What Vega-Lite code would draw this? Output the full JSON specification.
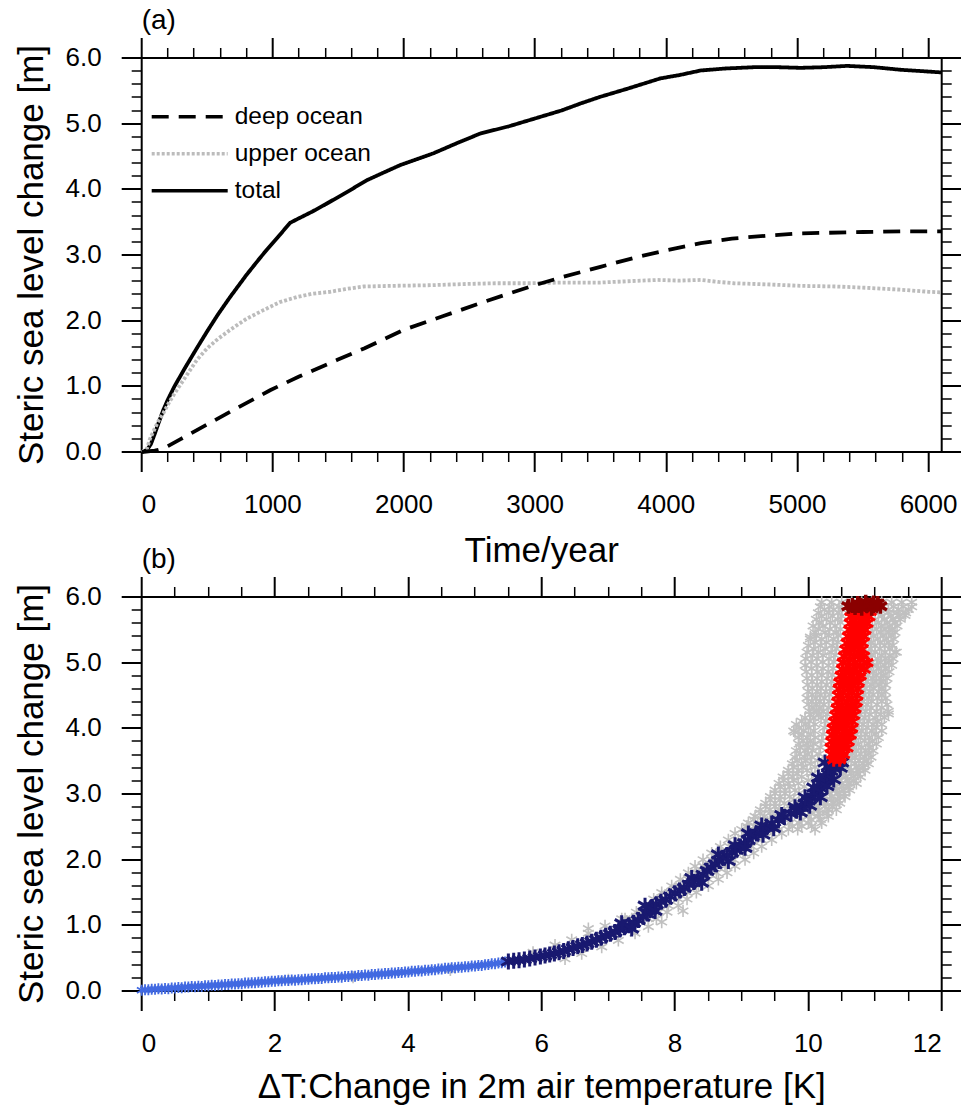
{
"$schema":"https://vega.github.io/schema/vega-lite/v6.json",
"autosize":{"type":"none"},
"padding":{"left":141.7,"top":58,"right":819.3,"bottom":1048},
"background":"white",
"config":{"font":"Liberation Sans","view":{"stroke":null},
"axis":{"domainColor":"black","tickColor":"black","domainWidth":2,"tickWidth":2,"domainCap":"square","translate":0,"labelFont":"Liberation Sans","labelFontSize":26,"labelColor":"black","labelPadding":20,"titleFont":"Liberation Sans","titleFontSize":35,"titleFontWeight":"normal","titleColor":"black","grid":false},
"title":{"font":"Liberation Sans","fontSize":28,"fontWeight":"normal","color":"black","anchor":"start","frame":"group","offset":2}},
"datasets":{
"ts":[
{"series":"total","year":0,"v":0},{"series":"total","year":40,"v":0.03},{"series":"total","year":70,"v":0.12},{"series":"total","year":100,"v":0.28},{"series":"total","year":130,"v":0.45},{"series":"total","year":165,"v":0.64},{"series":"total","year":200,"v":0.8},{"series":"total","year":250,"v":1.0},{"series":"total","year":330,"v":1.28},{"series":"total","year":420,"v":1.58},{"series":"total","year":500,"v":1.84},{"series":"total","year":580,"v":2.09},{"series":"total","year":674,"v":2.36},{"series":"total","year":800,"v":2.7},{"series":"total","year":900,"v":2.95},{"series":"total","year":954,"v":3.08},{"series":"total","year":1050,"v":3.3},{"series":"total","year":1132,"v":3.49},{"series":"total","year":1200,"v":3.56},{"series":"total","year":1300,"v":3.66},{"series":"total","year":1400,"v":3.77},{"series":"total","year":1461,"v":3.84},{"series":"total","year":1600,"v":4.0},{"series":"total","year":1718,"v":4.14},{"series":"total","year":1850,"v":4.26},{"series":"total","year":1972,"v":4.37},{"series":"total","year":2100,"v":4.46},{"series":"total","year":2226,"v":4.55},{"series":"total","year":2400,"v":4.7},{"series":"total","year":2582,"v":4.85},{"series":"total","year":2800,"v":4.96},{"series":"total","year":3000,"v":5.08},{"series":"total","year":3200,"v":5.2},{"series":"total","year":3350,"v":5.31},{"series":"total","year":3498,"v":5.41},{"series":"total","year":3700,"v":5.53},{"series":"total","year":3956,"v":5.69},{"series":"total","year":4100,"v":5.74},{"series":"total","year":4263,"v":5.81},{"series":"total","year":4450,"v":5.84},{"series":"total","year":4670,"v":5.86},{"series":"total","year":4850,"v":5.86},{"series":"total","year":5026,"v":5.85},{"series":"total","year":5200,"v":5.86},{"series":"total","year":5380,"v":5.88},{"series":"total","year":5584,"v":5.86},{"series":"total","year":5790,"v":5.82},{"series":"total","year":5950,"v":5.8},{"series":"total","year":6100,"v":5.78},
{"series":"upper ocean","year":0,"v":0},{"series":"upper ocean","year":40,"v":0.05},{"series":"upper ocean","year":63,"v":0.2},{"series":"upper ocean","year":100,"v":0.36},{"series":"upper ocean","year":130,"v":0.48},{"series":"upper ocean","year":165,"v":0.59},{"series":"upper ocean","year":210,"v":0.76},{"series":"upper ocean","year":250,"v":0.89},{"series":"upper ocean","year":330,"v":1.13},{"series":"upper ocean","year":420,"v":1.4},{"series":"upper ocean","year":500,"v":1.58},{"series":"upper ocean","year":580,"v":1.72},{"series":"upper ocean","year":674,"v":1.86},{"series":"upper ocean","year":800,"v":2.03},{"series":"upper ocean","year":928,"v":2.16},{"series":"upper ocean","year":1050,"v":2.28},{"series":"upper ocean","year":1183,"v":2.36},{"series":"upper ocean","year":1300,"v":2.41},{"series":"upper ocean","year":1437,"v":2.44},{"series":"upper ocean","year":1550,"v":2.48},{"series":"upper ocean","year":1692,"v":2.52},{"series":"upper ocean","year":1900,"v":2.53},{"series":"upper ocean","year":2200,"v":2.54},{"series":"upper ocean","year":2500,"v":2.56},{"series":"upper ocean","year":2710,"v":2.57},{"series":"upper ocean","year":2964,"v":2.57},{"series":"upper ocean","year":3200,"v":2.58},{"series":"upper ocean","year":3498,"v":2.58},{"series":"upper ocean","year":3700,"v":2.6},{"series":"upper ocean","year":3931,"v":2.62},{"series":"upper ocean","year":4100,"v":2.61},{"series":"upper ocean","year":4263,"v":2.62},{"series":"upper ocean","year":4400,"v":2.59},{"series":"upper ocean","year":4516,"v":2.57},{"series":"upper ocean","year":4800,"v":2.55},{"series":"upper ocean","year":5026,"v":2.53},{"series":"upper ocean","year":5300,"v":2.52},{"series":"upper ocean","year":5534,"v":2.5},{"series":"upper ocean","year":5800,"v":2.47},{"series":"upper ocean","year":6000,"v":2.44},{"series":"upper ocean","year":6100,"v":2.43},
{"series":"deep ocean","year":0,"v":0},{"series":"deep ocean","year":100,"v":0.02},{"series":"deep ocean","year":160,"v":0.05},{"series":"deep ocean","year":200,"v":0.09},{"series":"deep ocean","year":300,"v":0.2},{"series":"deep ocean","year":500,"v":0.42},{"series":"deep ocean","year":700,"v":0.64},{"series":"deep ocean","year":979,"v":0.94},{"series":"deep ocean","year":1200,"v":1.15},{"series":"deep ocean","year":1488,"v":1.4},{"series":"deep ocean","year":1700,"v":1.58},{"series":"deep ocean","year":1997,"v":1.86},{"series":"deep ocean","year":2300,"v":2.07},{"series":"deep ocean","year":2600,"v":2.28},{"series":"deep ocean","year":2964,"v":2.52},{"series":"deep ocean","year":3200,"v":2.66},{"series":"deep ocean","year":3498,"v":2.82},{"series":"deep ocean","year":3800,"v":2.98},{"series":"deep ocean","year":4000,"v":3.07},{"series":"deep ocean","year":4263,"v":3.18},{"series":"deep ocean","year":4500,"v":3.25},{"series":"deep ocean","year":4800,"v":3.3},{"series":"deep ocean","year":5026,"v":3.33},{"series":"deep ocean","year":5500,"v":3.35},{"series":"deep ocean","year":5800,"v":3.36},{"series":"deep ocean","year":6100,"v":3.36}
],
"g":[
{"t":10.2,"h":5.92},{"t":10.35,"h":5.92},{"t":10.5,"h":5.92},{"t":10.65,"h":5.92},{"t":10.8,"h":5.92},{"t":10.95,"h":5.92},{"t":11.1,"h":5.92},{"t":11.25,"h":5.92},{"t":11.4,"h":5.92},{"t":11.55,"h":5.92},
{"t":10.18,"h":5.85},{"t":10.32,"h":5.85},{"t":10.46,"h":5.85},{"t":11.12,"h":5.85},{"t":11.28,"h":5.85},{"t":11.42,"h":5.85},{"t":11.55,"h":5.85},
{"t":10.24,"h":5.81},{"t":10.38,"h":5.81},{"t":10.5,"h":5.81},{"t":11.2,"h":5.81},{"t":11.35,"h":5.81},{"t":11.5,"h":5.81},
{"t":10.15,"h":5.76},{"t":10.3,"h":5.76},{"t":10.45,"h":5.76},{"t":11.05,"h":5.76},{"t":11.2,"h":5.76},{"t":11.33,"h":5.76},{"t":11.46,"h":5.76},
{"t":10.2,"h":5.71},{"t":10.36,"h":5.71},{"t":10.5,"h":5.71},{"t":11.1,"h":5.71},{"t":11.24,"h":5.71},{"t":11.36,"h":5.71},
{"t":10.12,"h":5.66},{"t":10.27,"h":5.66},{"t":10.44,"h":5.66},{"t":11.0,"h":5.66},{"t":11.14,"h":5.66},{"t":11.27,"h":5.66},{"t":11.38,"h":5.66},
{"t":10.17,"h":5.61},{"t":10.33,"h":5.61},{"t":10.48,"h":5.61},{"t":11.05,"h":5.61},{"t":11.18,"h":5.61},{"t":11.3,"h":5.61},
{"t":10.07,"h":5.56},{"t":10.22,"h":5.56},{"t":10.4,"h":5.56},{"t":10.96,"h":5.56},{"t":11.1,"h":5.56},{"t":11.22,"h":5.56},{"t":11.33,"h":5.56},
{"t":10.15,"h":5.51},{"t":10.32,"h":5.51},{"t":10.48,"h":5.51},{"t":11.02,"h":5.51},{"t":11.15,"h":5.51},{"t":11.26,"h":5.51},
{"t":10.1,"h":5.46},{"t":10.25,"h":5.46},{"t":10.42,"h":5.46},{"t":10.94,"h":5.46},{"t":11.08,"h":5.46},{"t":11.2,"h":5.46},{"t":11.3,"h":5.46},
{"t":10.12,"h":5.41},{"t":10.3,"h":5.41},{"t":10.45,"h":5.41},{"t":10.98,"h":5.41},{"t":11.12,"h":5.41},{"t":11.24,"h":5.41},
{"t":10.03,"h":5.36},{"t":10.2,"h":5.36},{"t":10.38,"h":5.36},{"t":10.9,"h":5.36},{"t":11.04,"h":5.36},{"t":11.17,"h":5.36},{"t":11.28,"h":5.36},
{"t":10.1,"h":5.31},{"t":10.27,"h":5.31},{"t":10.44,"h":5.31},{"t":10.95,"h":5.31},{"t":11.08,"h":5.31},{"t":11.2,"h":5.31},
{"t":10.0,"h":5.26},{"t":10.18,"h":5.26},{"t":10.36,"h":5.26},{"t":10.86,"h":5.26},{"t":11.0,"h":5.26},{"t":11.14,"h":5.26},{"t":11.26,"h":5.26},
{"t":10.08,"h":5.21},{"t":10.25,"h":5.21},{"t":10.42,"h":5.21},{"t":10.93,"h":5.21},{"t":11.07,"h":5.21},{"t":11.22,"h":5.21},
{"t":9.98,"h":5.16},{"t":10.15,"h":5.16},{"t":10.34,"h":5.16},{"t":10.86,"h":5.16},{"t":11.0,"h":5.16},{"t":11.15,"h":5.16},{"t":11.3,"h":5.16},
{"t":10.06,"h":5.11},{"t":10.22,"h":5.11},{"t":10.4,"h":5.11},{"t":10.95,"h":5.11},{"t":11.1,"h":5.11},{"t":11.22,"h":5.11},
{"t":9.96,"h":5.06},{"t":10.13,"h":5.06},{"t":10.31,"h":5.06},{"t":10.9,"h":5.06},{"t":11.04,"h":5.06},{"t":11.16,"h":5.06},{"t":11.27,"h":5.06},
{"t":10.04,"h":5.01},{"t":10.21,"h":5.01},{"t":10.38,"h":5.01},{"t":10.95,"h":5.01},{"t":11.08,"h":5.01},{"t":11.2,"h":5.01},
{"t":9.95,"h":4.96},{"t":10.12,"h":4.96},{"t":10.3,"h":4.96},{"t":10.88,"h":4.96},{"t":11.02,"h":4.96},{"t":11.14,"h":4.96},{"t":11.25,"h":4.96},
{"t":10.05,"h":4.91},{"t":10.22,"h":4.91},{"t":10.37,"h":4.91},{"t":10.92,"h":4.91},{"t":11.05,"h":4.91},{"t":11.16,"h":4.91},
{"t":9.97,"h":4.86},{"t":10.14,"h":4.86},{"t":10.3,"h":4.86},{"t":10.84,"h":4.86},{"t":10.98,"h":4.86},{"t":11.1,"h":4.86},{"t":11.21,"h":4.86},
{"t":10.05,"h":4.81},{"t":10.2,"h":4.81},{"t":10.36,"h":4.81},{"t":10.9,"h":4.81},{"t":11.02,"h":4.81},{"t":11.13,"h":4.81},
{"t":9.98,"h":4.76},{"t":10.13,"h":4.76},{"t":10.28,"h":4.76},{"t":10.82,"h":4.76},{"t":10.96,"h":4.76},{"t":11.08,"h":4.76},{"t":11.18,"h":4.76},
{"t":10.06,"h":4.71},{"t":10.2,"h":4.71},{"t":10.35,"h":4.71},{"t":10.88,"h":4.71},{"t":11.0,"h":4.71},{"t":11.1,"h":4.71},
{"t":9.99,"h":4.66},{"t":10.13,"h":4.66},{"t":10.27,"h":4.66},{"t":10.8,"h":4.66},{"t":10.94,"h":4.66},{"t":11.06,"h":4.66},{"t":11.16,"h":4.66},
{"t":10.06,"h":4.61},{"t":10.19,"h":4.61},{"t":10.34,"h":4.61},{"t":10.86,"h":4.61},{"t":10.98,"h":4.61},{"t":11.1,"h":4.61},
{"t":10.0,"h":4.56},{"t":10.13,"h":4.56},{"t":10.26,"h":4.56},{"t":10.78,"h":4.56},{"t":10.92,"h":4.56},{"t":11.05,"h":4.56},{"t":11.15,"h":4.56},
{"t":10.06,"h":4.51},{"t":10.18,"h":4.51},{"t":10.32,"h":4.51},{"t":10.84,"h":4.51},{"t":10.97,"h":4.51},{"t":11.1,"h":4.51},
{"t":9.98,"h":4.46},{"t":10.11,"h":4.46},{"t":10.24,"h":4.46},{"t":10.76,"h":4.46},{"t":10.9,"h":4.46},{"t":11.04,"h":4.46},{"t":11.16,"h":4.46},
{"t":10.05,"h":4.41},{"t":10.17,"h":4.41},{"t":10.31,"h":4.41},{"t":10.82,"h":4.41},{"t":10.95,"h":4.41},{"t":11.1,"h":4.41},
{"t":10.0,"h":4.36},{"t":10.12,"h":4.36},{"t":10.23,"h":4.36},{"t":10.74,"h":4.36},{"t":10.88,"h":4.36},{"t":11.03,"h":4.36},{"t":11.18,"h":4.36},
{"t":10.07,"h":4.31},{"t":10.17,"h":4.31},{"t":10.3,"h":4.31},{"t":10.8,"h":4.31},{"t":10.94,"h":4.31},{"t":11.1,"h":4.31},
{"t":10.02,"h":4.26},{"t":10.12,"h":4.26},{"t":10.22,"h":4.26},{"t":10.72,"h":4.26},{"t":10.86,"h":4.26},{"t":11.02,"h":4.26},{"t":11.2,"h":4.26},
{"t":10.03,"h":4.21},{"t":10.15,"h":4.21},{"t":10.28,"h":4.21},{"t":10.78,"h":4.21},{"t":10.92,"h":4.21},{"t":11.08,"h":4.21},
{"t":9.95,"h":4.16},{"t":10.08,"h":4.16},{"t":10.19,"h":4.16},{"t":10.7,"h":4.16},{"t":10.84,"h":4.16},{"t":11.0,"h":4.16},{"t":11.14,"h":4.16},
{"t":9.9,"h":4.11},{"t":10.02,"h":4.11},{"t":10.26,"h":4.11},{"t":10.76,"h":4.11},{"t":10.9,"h":4.11},{"t":11.04,"h":4.11},
{"t":9.82,"h":4.06},{"t":9.96,"h":4.06},{"t":10.1,"h":4.06},{"t":10.68,"h":4.06},{"t":10.82,"h":4.06},{"t":10.97,"h":4.06},{"t":11.1,"h":4.06},
{"t":9.86,"h":4.01},{"t":10.0,"h":4.01},{"t":10.24,"h":4.01},{"t":10.74,"h":4.01},{"t":10.88,"h":4.01},{"t":11.02,"h":4.01},
{"t":9.78,"h":3.96},{"t":9.93,"h":3.96},{"t":10.08,"h":3.96},{"t":10.66,"h":3.96},{"t":10.8,"h":3.96},{"t":10.95,"h":3.96},{"t":11.1,"h":3.96},
{"t":9.9,"h":3.91},{"t":10.03,"h":3.91},{"t":10.22,"h":3.91},{"t":10.72,"h":3.91},{"t":10.86,"h":3.91},{"t":11.0,"h":3.91},
{"t":9.85,"h":3.86},{"t":9.98,"h":3.86},{"t":10.1,"h":3.86},{"t":10.63,"h":3.86},{"t":10.78,"h":3.86},{"t":10.92,"h":3.86},{"t":11.05,"h":3.86},
{"t":9.92,"h":3.81},{"t":10.03,"h":3.81},{"t":10.2,"h":3.81},{"t":10.7,"h":3.81},{"t":10.84,"h":3.81},{"t":10.96,"h":3.81},
{"t":9.86,"h":3.76},{"t":9.98,"h":3.76},{"t":10.08,"h":3.76},{"t":10.6,"h":3.76},{"t":10.75,"h":3.76},{"t":10.9,"h":3.76},{"t":11.02,"h":3.76},
{"t":9.88,"h":3.71},{"t":10.0,"h":3.71},{"t":10.18,"h":3.71},{"t":10.68,"h":3.71},{"t":10.8,"h":3.71},{"t":10.92,"h":3.71},
{"t":9.82,"h":3.66},{"t":9.95,"h":3.66},{"t":10.06,"h":3.66},{"t":10.58,"h":3.66},{"t":10.72,"h":3.66},{"t":10.86,"h":3.66},{"t":10.97,"h":3.66},
{"t":9.87,"h":3.61},{"t":9.99,"h":3.61},{"t":10.16,"h":3.61},{"t":10.66,"h":3.61},{"t":10.78,"h":3.61},{"t":10.9,"h":3.61},
{"t":9.8,"h":3.56},{"t":9.94,"h":3.56},{"t":10.05,"h":3.56},{"t":10.55,"h":3.56},{"t":10.7,"h":3.56},{"t":10.84,"h":3.56},{"t":10.94,"h":3.56},
{"t":9.83,"h":3.51},{"t":9.96,"h":3.51},{"t":10.14,"h":3.51},{"t":10.64,"h":3.51},{"t":10.76,"h":3.51},{"t":10.87,"h":3.51},
{"t":9.76,"h":3.46},{"t":9.9,"h":3.46},{"t":10.03,"h":3.46},{"t":10.55,"h":3.46},{"t":10.7,"h":3.46},{"t":10.82,"h":3.46},{"t":10.9,"h":3.46},
{"t":9.78,"h":3.41},{"t":9.92,"h":3.41},{"t":10.1,"h":3.41},{"t":10.6,"h":3.41},{"t":10.72,"h":3.41},{"t":10.82,"h":3.41},
{"t":9.7,"h":3.36},{"t":9.85,"h":3.36},{"t":9.98,"h":3.36},{"t":10.5,"h":3.36},{"t":10.64,"h":3.36},{"t":10.76,"h":3.36},{"t":10.85,"h":3.36},
{"t":9.7,"h":3.31},{"t":9.83,"h":3.31},{"t":10.05,"h":3.31},{"t":10.52,"h":3.31},{"t":10.64,"h":3.31},{"t":10.74,"h":3.31},
{"t":9.62,"h":3.26},{"t":9.76,"h":3.26},{"t":9.9,"h":3.26},{"t":10.42,"h":3.26},{"t":10.56,"h":3.26},{"t":10.68,"h":3.26},{"t":10.78,"h":3.26},
{"t":9.63,"h":3.21},{"t":9.78,"h":3.21},{"t":10.0,"h":3.21},{"t":10.46,"h":3.21},{"t":10.58,"h":3.21},{"t":10.68,"h":3.21},
{"t":9.56,"h":3.16},{"t":9.7,"h":3.16},{"t":9.85,"h":3.16},{"t":10.35,"h":3.16},{"t":10.5,"h":3.16},{"t":10.62,"h":3.16},{"t":10.72,"h":3.16},
{"t":9.58,"h":3.11},{"t":9.72,"h":3.11},{"t":9.94,"h":3.11},{"t":10.4,"h":3.11},{"t":10.5,"h":3.11},{"t":10.6,"h":3.11},
{"t":9.5,"h":3.06},{"t":9.65,"h":3.06},{"t":9.8,"h":3.06},{"t":10.27,"h":3.06},{"t":10.42,"h":3.06},{"t":10.53,"h":3.06},{"t":10.62,"h":3.06},
{"t":9.5,"h":3.01},{"t":9.65,"h":3.01},{"t":9.86,"h":3.01},{"t":10.32,"h":3.01},{"t":10.44,"h":3.01},{"t":10.54,"h":3.01},
{"t":9.43,"h":2.96},{"t":9.58,"h":2.96},{"t":9.72,"h":2.96},{"t":10.2,"h":2.96},{"t":10.35,"h":2.96},{"t":10.47,"h":2.96},{"t":10.55,"h":2.96},
{"t":9.43,"h":2.91},{"t":9.57,"h":2.91},{"t":9.78,"h":2.91},{"t":10.22,"h":2.91},{"t":10.34,"h":2.91},{"t":10.44,"h":2.91},
{"t":9.36,"h":2.86},{"t":9.5,"h":2.86},{"t":9.64,"h":2.86},{"t":10.1,"h":2.86},{"t":10.25,"h":2.86},{"t":10.38,"h":2.86},{"t":10.47,"h":2.86},
{"t":9.36,"h":2.81},{"t":9.5,"h":2.81},{"t":9.7,"h":2.81},{"t":10.12,"h":2.81},{"t":10.25,"h":2.81},{"t":10.36,"h":2.81},
{"t":9.28,"h":2.76},{"t":9.42,"h":2.76},{"t":9.56,"h":2.76},{"t":10.0,"h":2.76},{"t":10.15,"h":2.76},{"t":10.3,"h":2.76},{"t":10.42,"h":2.76},
{"t":9.28,"h":2.71},{"t":9.42,"h":2.71},{"t":9.6,"h":2.71},{"t":10.02,"h":2.71},{"t":10.16,"h":2.71},{"t":10.28,"h":2.71},
{"t":9.2,"h":2.66},{"t":9.34,"h":2.66},{"t":9.47,"h":2.66},{"t":9.86,"h":2.66},{"t":10.0,"h":2.66},{"t":10.15,"h":2.66},{"t":10.3,"h":2.66},
{"t":9.18,"h":2.61},{"t":9.32,"h":2.61},{"t":9.5,"h":2.61},{"t":9.9,"h":2.61},{"t":10.04,"h":2.61},{"t":10.18,"h":2.61},
{"t":9.1,"h":2.56},{"t":9.24,"h":2.56},{"t":9.38,"h":2.56},{"t":9.72,"h":2.56},{"t":9.86,"h":2.56},{"t":10.0,"h":2.56},{"t":10.2,"h":2.56},
{"t":9.08,"h":2.51},{"t":9.2,"h":2.51},{"t":9.4,"h":2.51},{"t":9.76,"h":2.51},{"t":9.9,"h":2.51},{"t":10.05,"h":2.51},
{"t":9.0,"h":2.46},{"t":9.12,"h":2.46},{"t":9.26,"h":2.46},{"t":9.56,"h":2.46},{"t":9.7,"h":2.46},{"t":9.84,"h":2.46},{"t":10.1,"h":2.46},
{"t":10.03,"h":5.39},{"t":11.32,"h":5.16},{"t":11.2,"h":4.22},{"t":9.8,"h":3.94},{"t":11.45,"h":5.72},
{"t":8.9,"h":2.4},{"t":9.05,"h":2.4},{"t":9.45,"h":2.4},{"t":9.6,"h":2.4},
{"t":8.8,"h":2.3},{"t":8.95,"h":2.3},{"t":9.3,"h":2.3},{"t":9.45,"h":2.3},
{"t":8.68,"h":2.2},{"t":8.82,"h":2.2},{"t":9.15,"h":2.2},{"t":9.3,"h":2.2},
{"t":8.55,"h":2.1},{"t":8.7,"h":2.1},{"t":9.02,"h":2.1},{"t":9.18,"h":2.1},
{"t":8.42,"h":2.0},{"t":8.55,"h":2.0},{"t":8.88,"h":2.0},{"t":9.05,"h":2.0},
{"t":8.3,"h":1.9},{"t":8.42,"h":1.9},{"t":8.75,"h":1.9},{"t":8.9,"h":1.9},
{"t":8.2,"h":1.8},{"t":8.32,"h":1.8},{"t":8.62,"h":1.8},{"t":8.78,"h":1.8},
{"t":8.08,"h":1.7},{"t":8.2,"h":1.7},{"t":8.5,"h":1.7},{"t":8.65,"h":1.7},
{"t":7.95,"h":1.6},{"t":8.06,"h":1.6},{"t":8.35,"h":1.6},{"t":8.5,"h":1.6},
{"t":7.8,"h":1.5},{"t":7.92,"h":1.5},{"t":8.18,"h":1.5},{"t":8.32,"h":1.5},
{"t":7.68,"h":1.4},{"t":7.78,"h":1.4},{"t":8.05,"h":1.4},{"t":8.18,"h":1.4},
{"t":7.55,"h":1.3},{"t":7.65,"h":1.3},{"t":7.9,"h":1.3},{"t":8.05,"h":1.3},
{"t":7.42,"h":1.2},{"t":7.5,"h":1.2},{"t":7.75,"h":1.2},{"t":7.88,"h":1.2},
{"t":7.25,"h":1.1},{"t":7.35,"h":1.1},{"t":7.6,"h":1.1},{"t":7.72,"h":1.1},
{"t":6.2,"h":0.7},{"t":6.45,"h":0.78},{"t":6.7,"h":0.88},{"t":6.95,"h":0.99},{"t":7.2,"h":1.1},
{"t":6.35,"h":0.49},{"t":6.6,"h":0.57},{"t":6.9,"h":0.67},{"t":7.15,"h":0.77},{"t":7.4,"h":0.88},{"t":7.6,"h":0.98},
{"t":8.12,"h":1.22},{"t":6.7,"h":0.95},{"t":3.17,"h":0.21},{"t":4.63,"h":0.32},{"t":5.87,"h":0.59},{"t":2.2,"h":0.17},{"t":7.8,"h":1.05}
],
"b":[
{"t":0.0,"h":0.01},{"t":0.1,"h":0.02},{"t":0.2,"h":0.025},{"t":0.3,"h":0.03},{"t":0.4,"h":0.035},{"t":0.5,"h":0.045},{"t":0.6,"h":0.05},{"t":0.7,"h":0.06},{"t":0.8,"h":0.065},{"t":0.9,"h":0.07},{"t":1.0,"h":0.08},{"t":1.1,"h":0.085},{"t":1.2,"h":0.09},{"t":1.3,"h":0.1},{"t":1.4,"h":0.105},{"t":1.5,"h":0.11},{"t":1.6,"h":0.12},{"t":1.7,"h":0.125},{"t":1.8,"h":0.135},{"t":1.9,"h":0.14},{"t":2.0,"h":0.15},{"t":2.1,"h":0.155},{"t":2.2,"h":0.16},{"t":2.3,"h":0.165},{"t":2.4,"h":0.17},{"t":2.5,"h":0.18},{"t":2.6,"h":0.185},{"t":2.7,"h":0.19},{"t":2.8,"h":0.2},{"t":2.9,"h":0.205},{"t":3.0,"h":0.21},{"t":3.1,"h":0.22},{"t":3.2,"h":0.225},{"t":3.3,"h":0.235},{"t":3.4,"h":0.24},{"t":3.5,"h":0.25},{"t":3.6,"h":0.26},{"t":3.7,"h":0.265},{"t":3.8,"h":0.275},{"t":3.9,"h":0.28},{"t":4.0,"h":0.29},{"t":4.1,"h":0.3},{"t":4.2,"h":0.305},{"t":4.3,"h":0.315},{"t":4.4,"h":0.325},{"t":4.5,"h":0.335},{"t":4.6,"h":0.345},{"t":4.7,"h":0.355},{"t":4.8,"h":0.36},{"t":4.9,"h":0.37},{"t":5.0,"h":0.38},{"t":5.1,"h":0.39},{"t":5.2,"h":0.405},{"t":5.3,"h":0.415},{"t":5.4,"h":0.43},{"t":5.5,"h":0.445},
{"t":0.05,"h":0.02},{"t":0.15,"h":0.028},{"t":0.25,"h":0.033},{"t":0.35,"h":0.038},{"t":0.45,"h":0.045},{"t":0.55,"h":0.053},{"t":0.65,"h":0.06},{"t":0.75,"h":0.068},{"t":0.85,"h":0.072},{"t":0.95,"h":0.08},{"t":1.05,"h":0.088},{"t":1.15,"h":0.093},{"t":1.25,"h":0.1},{"t":1.35,"h":0.108},{"t":1.45,"h":0.112},{"t":1.55,"h":0.12},{"t":1.65,"h":0.127},{"t":1.75,"h":0.133},{"t":1.85,"h":0.142},{"t":1.95,"h":0.15},{"t":2.05,"h":0.157},{"t":2.15,"h":0.162},{"t":2.25,"h":0.167},{"t":2.35,"h":0.172},{"t":2.45,"h":0.18},{"t":2.55,"h":0.187},{"t":2.65,"h":0.192},{"t":2.75,"h":0.2},{"t":2.85,"h":0.207},{"t":2.95,"h":0.213},{"t":3.05,"h":0.22},{"t":3.15,"h":0.227},{"t":3.25,"h":0.235},{"t":3.35,"h":0.242},{"t":3.45,"h":0.25},{"t":3.55,"h":0.26},{"t":3.65,"h":0.267},{"t":3.75,"h":0.274},{"t":3.85,"h":0.282},{"t":3.95,"h":0.29},{"t":4.05,"h":0.3},{"t":4.15,"h":0.307},{"t":4.25,"h":0.315},{"t":4.35,"h":0.325},{"t":4.45,"h":0.335},{"t":4.55,"h":0.345},{"t":4.65,"h":0.355},{"t":4.75,"h":0.362},{"t":4.85,"h":0.37},{"t":4.95,"h":0.38},{"t":5.05,"h":0.39},{"t":5.15,"h":0.4},{"t":5.25,"h":0.415},{"t":5.35,"h":0.427},{"t":5.45,"h":0.44}
],
"n":[
{"t":5.5,"h":0.45},{"t":5.58,"h":0.46},{"t":5.66,"h":0.47},{"t":5.74,"h":0.48},{"t":5.82,"h":0.495},{"t":5.9,"h":0.51},{"t":5.98,"h":0.525},{"t":6.05,"h":0.54},{"t":6.12,"h":0.555},{"t":6.19,"h":0.57},{"t":6.26,"h":0.59},{"t":6.33,"h":0.61},{"t":6.4,"h":0.635},{"t":6.47,"h":0.655},{"t":6.54,"h":0.68},{"t":6.61,"h":0.7},{"t":6.68,"h":0.725},{"t":6.75,"h":0.75},{"t":6.82,"h":0.78},{"t":6.89,"h":0.81},{"t":6.96,"h":0.84},{"t":7.03,"h":0.87},{"t":7.1,"h":0.9},{"t":7.17,"h":0.935},{"t":7.24,"h":0.97},{"t":7.31,"h":1.0},{"t":7.38,"h":1.04},{"t":7.45,"h":1.08},{"t":7.52,"h":1.13},{"t":7.58,"h":1.18},{"t":7.62,"h":1.23},{"t":7.66,"h":1.28},{"t":7.72,"h":1.32},{"t":7.79,"h":1.36},{"t":7.86,"h":1.39},{"t":7.93,"h":1.44},{"t":8.0,"h":1.49},{"t":8.07,"h":1.53},{"t":8.14,"h":1.57},{"t":8.21,"h":1.62},{"t":8.28,"h":1.66},{"t":8.35,"h":1.71},{"t":8.42,"h":1.77},{"t":8.48,"h":1.83},{"t":8.54,"h":1.88},{"t":8.6,"h":1.93},{"t":8.66,"h":1.98},{"t":8.72,"h":2.03},{"t":8.78,"h":2.07},{"t":8.85,"h":2.11},{"t":8.92,"h":2.15},{"t":8.98,"h":2.2},{"t":9.04,"h":2.25},{"t":9.1,"h":2.3},{"t":9.16,"h":2.35},{"t":9.22,"h":2.4},{"t":9.3,"h":2.45},{"t":9.37,"h":2.5},{"t":9.45,"h":2.55},{"t":9.55,"h":2.6},{"t":9.64,"h":2.65},{"t":9.74,"h":2.7},{"t":9.82,"h":2.75},{"t":9.9,"h":2.8},{"t":9.95,"h":2.85},{"t":10.0,"h":2.9},{"t":10.05,"h":2.95},{"t":10.1,"h":3.0},{"t":10.14,"h":3.05},{"t":10.17,"h":3.1},{"t":10.2,"h":3.15},{"t":10.23,"h":3.2},{"t":10.27,"h":3.25},{"t":10.3,"h":3.3},{"t":10.34,"h":3.35},{"t":10.37,"h":3.4},{"t":10.4,"h":3.45},{"t":10.42,"h":3.5},
{"t":9.6,"h":2.68},{"t":9.88,"h":2.72},{"t":9.8,"h":2.8},{"t":10.02,"h":2.82},{"t":9.95,"h":2.95},{"t":10.18,"h":2.95},{"t":10.08,"h":3.1},{"t":10.28,"h":3.12},{"t":10.15,"h":3.25},{"t":10.38,"h":3.22},{"t":10.3,"h":3.42},{"t":10.48,"h":3.4},{"t":10.5,"h":3.48},{"t":10.25,"h":3.48},{"t":9.3,"h":2.52},{"t":9.48,"h":2.48},{"t":9.1,"h":2.4},{"t":9.32,"h":2.38},{"t":8.9,"h":2.22},{"t":9.05,"h":2.18},
{"t":7.55,"h":1.3},{"t":7.7,"h":1.22},{"t":8.25,"h":1.72},{"t":8.4,"h":1.65},{"t":8.65,"h":2.08},{"t":8.8,"h":1.98},{"t":7.2,"h":1.03},{"t":7.35,"h":0.95}
],
"r":[
{"t":10.38,"h":3.52},{"t":10.47,"h":3.52},
{"t":10.36,"h":3.6},{"t":10.44,"h":3.6},{"t":10.53,"h":3.6},
{"t":10.34,"h":3.7},{"t":10.46,"h":3.7},{"t":10.58,"h":3.7},
{"t":10.35,"h":3.8},{"t":10.47,"h":3.8},{"t":10.6,"h":3.8},
{"t":10.36,"h":3.9},{"t":10.5,"h":3.9},{"t":10.63,"h":3.9},
{"t":10.37,"h":4.0},{"t":10.51,"h":4.0},{"t":10.65,"h":4.0},
{"t":10.39,"h":4.1},{"t":10.52,"h":4.1},{"t":10.66,"h":4.1},
{"t":10.41,"h":4.2},{"t":10.55,"h":4.2},{"t":10.68,"h":4.2},
{"t":10.43,"h":4.3},{"t":10.57,"h":4.3},{"t":10.7,"h":4.3},
{"t":10.44,"h":4.4},{"t":10.58,"h":4.4},{"t":10.72,"h":4.4},
{"t":10.45,"h":4.5},{"t":10.59,"h":4.5},{"t":10.73,"h":4.5},
{"t":10.46,"h":4.6},{"t":10.6,"h":4.6},{"t":10.74,"h":4.6},
{"t":10.47,"h":4.7},{"t":10.61,"h":4.7},{"t":10.75,"h":4.7},
{"t":10.49,"h":4.8},{"t":10.64,"h":4.8},{"t":10.78,"h":4.8},
{"t":10.51,"h":4.9},{"t":10.67,"h":4.9},{"t":10.84,"h":4.9},
{"t":10.52,"h":5.0},{"t":10.7,"h":5.0},{"t":10.88,"h":5.0},
{"t":10.54,"h":5.1},{"t":10.69,"h":5.1},{"t":10.83,"h":5.1},
{"t":10.56,"h":5.2},{"t":10.68,"h":5.2},{"t":10.8,"h":5.2},
{"t":10.58,"h":5.3},{"t":10.7,"h":5.3},{"t":10.81,"h":5.3},
{"t":10.6,"h":5.4},{"t":10.72,"h":5.4},{"t":10.83,"h":5.4},
{"t":10.62,"h":5.5},{"t":10.74,"h":5.5},{"t":10.85,"h":5.5},
{"t":10.63,"h":5.6},{"t":10.76,"h":5.6},{"t":10.88,"h":5.6},
{"t":10.64,"h":5.7},{"t":10.78,"h":5.7},{"t":10.91,"h":5.7},
{"t":10.64,"h":5.78},{"t":10.8,"h":5.78},{"t":10.93,"h":5.78},
{"t":10.4,"h":3.56},{"t":10.48,"h":3.56},{"t":10.4,"h":3.65},{"t":10.5,"h":3.65},{"t":10.4,"h":3.75},{"t":10.53,"h":3.75},{"t":10.42,"h":3.85},{"t":10.55,"h":3.85},{"t":10.43,"h":3.95},{"t":10.57,"h":3.95},{"t":10.45,"h":4.05},{"t":10.58,"h":4.05},{"t":10.47,"h":4.15},{"t":10.6,"h":4.15},{"t":10.49,"h":4.25},{"t":10.62,"h":4.25},{"t":10.5,"h":4.35},{"t":10.64,"h":4.35},{"t":10.51,"h":4.45},{"t":10.65,"h":4.45},{"t":10.52,"h":4.55},{"t":10.66,"h":4.55},{"t":10.53,"h":4.65},{"t":10.67,"h":4.65},{"t":10.55,"h":4.75},{"t":10.69,"h":4.75},{"t":10.57,"h":4.85},{"t":10.73,"h":4.85},{"t":10.6,"h":4.95},{"t":10.77,"h":4.95},{"t":10.62,"h":5.05},{"t":10.78,"h":5.05},{"t":10.62,"h":5.15},{"t":10.76,"h":5.15},{"t":10.63,"h":5.25},{"t":10.75,"h":5.25},{"t":10.65,"h":5.35},{"t":10.77,"h":5.35},{"t":10.67,"h":5.45},{"t":10.79,"h":5.45},{"t":10.68,"h":5.55},{"t":10.8,"h":5.55},{"t":10.7,"h":5.65},{"t":10.83,"h":5.65},{"t":10.71,"h":5.74},{"t":10.85,"h":5.74}
],
"d":[
{"t":10.6,"h":5.86},{"t":10.66,"h":5.87},{"t":10.76,"h":5.87},{"t":10.88,"h":5.88},{"t":10.98,"h":5.87},{"t":11.08,"h":5.86},{"t":10.74,"h":5.9},{"t":10.86,"h":5.92},{"t":10.98,"h":5.91},{"t":10.8,"h":5.83},{"t":10.95,"h":5.83},{"t":11.04,"h":5.9},{"t":10.7,"h":5.84}
]
},
"vconcat":[
{
"width":800,"height":394,
"title":{"text":"(a)"},
"layer":[
{"data":{"name":"ts"},"mark":{"type":"line","strokeWidth":3.8,"strokeCap":"butt"},
"encoding":{
"x":{"field":"year","type":"quantitative","scale":{"domain":[0,6100],"nice":false,"zero":false},"axis":{"orient":"bottom","values":[0,1000,2000,3000,4000,5000,6000],"format":"d","tickSize":20,"title":"Time/year","titlePadding":16}},
"y":{"field":"v","type":"quantitative","scale":{"domain":[0,6],"nice":false,"zero":false},"axis":{"orient":"left","values":[0,1,2,3,4,5,6],"format":".1f","tickSize":20,"title":"Steric sea level change [m]","titlePadding":16}},
"color":{"field":"series","type":"nominal","scale":{"domain":["deep ocean","upper ocean","total"],"range":["black","#bcbcbc","black"]},"legend":{"title":null,"orient":"none","legendX":8,"legendY":46.7,"symbolType":"stroke","symbolSize":5776,"symbolStrokeWidth":3.5,"clipHeight":24,"labelFontSize":24.5,"labelFont":"Liberation Sans","labelColor":"black","labelOffset":5,"rowPadding":12,"padding":0}},
"strokeDash":{"field":"series","type":"nominal","scale":{"domain":["deep ocean","upper ocean","total"],"range":[[17,10],[3,2],[1,0]]},"legend":{"title":null,"orient":"none","legendX":8,"legendY":46.7,"symbolType":"stroke","symbolSize":5776,"symbolStrokeWidth":3.5,"clipHeight":24,"labelFontSize":24.5,"labelFont":"Liberation Sans","labelColor":"black","labelOffset":5,"rowPadding":12,"padding":0}}
}},
{"data":{"name":"ts"},"mark":{"type":"point","opacity":0},
"encoding":{
"x":{"field":"year","type":"quantitative","scale":{"domain":[0,6100],"nice":false,"zero":false},"axis":{"orient":"bottom","values":[200,400,600,800,1200,1400,1600,1800,2200,2400,2600,2800,3200,3400,3600,3800,4200,4400,4600,4800,5200,5400,5600,5800],"tickSize":10,"tickWidth":1.5,"labels":false,"domain":false,"title":null}},
"y":{"field":"v","type":"quantitative","scale":{"domain":[0,6],"nice":false,"zero":false},"axis":{"orient":"left","values":[0.2,0.4,0.6,0.8,1.2,1.4,1.6,1.8,2.2,2.4,2.6,2.8,3.2,3.4,3.6,3.8,4.2,4.4,4.6,4.8,5.2,5.4,5.6,5.8],"tickSize":10,"tickWidth":1.5,"labels":false,"domain":false,"title":null}}
}},
{"data":{"name":"ts"},"mark":{"type":"point","opacity":0},
"encoding":{
"x":{"field":"year","type":"quantitative","scale":{"domain":[0,6100],"nice":false,"zero":false},"axis":{"orient":"top","values":[0,1000,2000,3000,4000,5000,6000],"tickSize":20,"labels":false,"title":null}},
"y":{"field":"v","type":"quantitative","scale":{"domain":[0,6],"nice":false,"zero":false},"axis":{"orient":"right","values":[0,1,2,3,4,5,6],"tickSize":20,"labels":false,"title":null}}
}},
{"data":{"name":"ts"},"mark":{"type":"point","opacity":0},
"encoding":{
"x":{"field":"year","type":"quantitative","scale":{"domain":[0,6100],"nice":false,"zero":false},"axis":{"orient":"top","values":[200,400,600,800,1200,1400,1600,1800,2200,2400,2600,2800,3200,3400,3600,3800,4200,4400,4600,4800,5200,5400,5600,5800],"tickSize":10,"tickWidth":1.5,"labels":false,"domain":false,"title":null}},
"y":{"field":"v","type":"quantitative","scale":{"domain":[0,6],"nice":false,"zero":false},"axis":{"orient":"right","values":[0.2,0.4,0.6,0.8,1.2,1.4,1.6,1.8,2.2,2.4,2.6,2.8,3.2,3.4,3.6,3.8,4.2,4.4,4.6,4.8,5.2,5.4,5.6,5.8],"tickSize":10,"tickWidth":1.5,"labels":false,"domain":false,"title":null}}
}}
],
"resolve":{"axis":{"x":"independent","y":"independent"}}
},
{
"width":800,"height":394,
"title":{"text":"(b)"},
"layer":[
{"data":{"name":"g"},"mark":{"type":"point","shape":"M0,-1L0,1M-0.87,-0.5L0.87,0.5M-0.87,0.5L0.87,-0.5","filled":false,"color":"#c0c0c0","opacity":1,"size":150,"strokeWidth":1.6},
"encoding":{
"x":{"field":"t","type":"quantitative","scale":{"domain":[0,12],"nice":false,"zero":false},"axis":{"orient":"bottom","values":[0,2,4,6,8,10,12],"format":"d","tickSize":20,"title":"ΔT:Change in 2m air temperature [K]","titlePadding":13}},
"y":{"field":"h","type":"quantitative","scale":{"domain":[0,6],"nice":false,"zero":false},"axis":{"orient":"left","values":[0,1,2,3,4,5,6],"format":".1f","tickSize":20,"title":"Steric sea level change [m]","titlePadding":16}}
}},
{"data":{"name":"b"},"mark":{"type":"point","shape":"M0,-1L0,1M-0.87,-0.5L0.87,0.5M-0.87,0.5L0.87,-0.5","filled":false,"color":"#4169e1","opacity":1,"size":121,"strokeWidth":1.8},
"encoding":{"x":{"field":"t","type":"quantitative","axis":null},"y":{"field":"h","type":"quantitative","axis":null}}},
{"data":{"name":"n"},"mark":{"type":"point","shape":"M0,-1L0,1M-0.87,-0.5L0.87,0.5M-0.87,0.5L0.87,-0.5","filled":false,"color":"#191970","opacity":1,"size":256,"strokeWidth":3},
"encoding":{"x":{"field":"t","type":"quantitative","axis":null},"y":{"field":"h","type":"quantitative","axis":null}}},
{"data":{"name":"r"},"mark":{"type":"point","shape":"M0,-1L0,1M-0.87,-0.5L0.87,0.5M-0.87,0.5L0.87,-0.5","filled":false,"color":"#ff0000","opacity":1,"size":196,"strokeWidth":3},
"encoding":{"x":{"field":"t","type":"quantitative","axis":null},"y":{"field":"h","type":"quantitative","axis":null}}},
{"data":{"name":"d"},"mark":{"type":"point","shape":"M0,-1L0,1M-0.87,-0.5L0.87,0.5M-0.87,0.5L0.87,-0.5","filled":false,"color":"#8b0000","opacity":1,"size":225,"strokeWidth":3.5},
"encoding":{"x":{"field":"t","type":"quantitative","axis":null},"y":{"field":"h","type":"quantitative","axis":null}}},
{"data":{"name":"g"},"mark":{"type":"point","opacity":0},
"encoding":{
"x":{"field":"t","type":"quantitative","scale":{"domain":[0,12],"nice":false,"zero":false},"axis":{"orient":"bottom","values":[0.5,1,1.5,2.5,3,3.5,4.5,5,5.5,6.5,7,7.5,8.5,9,9.5,10.5,11,11.5],"tickSize":10,"tickWidth":1.5,"labels":false,"domain":false,"title":null}},
"y":{"field":"h","type":"quantitative","scale":{"domain":[0,6],"nice":false,"zero":false},"axis":{"orient":"left","values":[0.2,0.4,0.6,0.8,1.2,1.4,1.6,1.8,2.2,2.4,2.6,2.8,3.2,3.4,3.6,3.8,4.2,4.4,4.6,4.8,5.2,5.4,5.6,5.8],"tickSize":10,"tickWidth":1.5,"labels":false,"domain":false,"title":null}}
}},
{"data":{"name":"g"},"mark":{"type":"point","opacity":0},
"encoding":{
"x":{"field":"t","type":"quantitative","scale":{"domain":[0,12],"nice":false,"zero":false},"axis":{"orient":"top","values":[0,2,4,6,8,10,12],"tickSize":20,"labels":false,"title":null}},
"y":{"field":"h","type":"quantitative","scale":{"domain":[0,6],"nice":false,"zero":false},"axis":{"orient":"right","values":[0,1,2,3,4,5,6],"tickSize":20,"labels":false,"title":null}}
}},
{"data":{"name":"g"},"mark":{"type":"point","opacity":0},
"encoding":{
"x":{"field":"t","type":"quantitative","scale":{"domain":[0,12],"nice":false,"zero":false},"axis":{"orient":"top","values":[0.5,1,1.5,2.5,3,3.5,4.5,5,5.5,6.5,7,7.5,8.5,9,9.5,10.5,11,11.5],"tickSize":10,"tickWidth":1.5,"labels":false,"domain":false,"title":null}},
"y":{"field":"h","type":"quantitative","scale":{"domain":[0,6],"nice":false,"zero":false},"axis":{"orient":"right","values":[0.2,0.4,0.6,0.8,1.2,1.4,1.6,1.8,2.2,2.4,2.6,2.8,3.2,3.4,3.6,3.8,4.2,4.4,4.6,4.8,5.2,5.4,5.6,5.8],"tickSize":10,"tickWidth":1.5,"labels":false,"domain":false,"title":null}}
}}
],
"resolve":{"axis":{"x":"independent","y":"independent"}}
}
],
"spacing":145,
"bounds":"flush"
}
